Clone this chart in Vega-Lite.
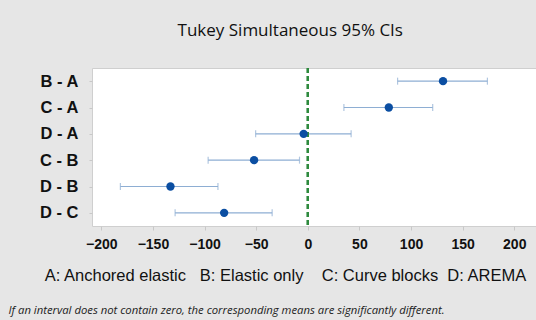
{
  "$schema": "https://vega.github.io/schema/vega-lite/v6.json",
  "background": "#e6e6e6",
  "padding": {"left": 8, "top": 21, "right": 0, "bottom": 16},
  "title": {
    "text": "Tukey Simultaneous 95% CIs",
    "font": "Open Sans",
    "fontSize": 17,
    "fontWeight": "normal",
    "color": "#111111",
    "anchor": "middle",
    "offset": 27,
    "dx": 17
  },
  "data": {
    "values": [
      {"pair": "B - A", "diff": 131, "lower": 87, "upper": 174},
      {"pair": "C - A", "diff": 78.5, "lower": 35, "upper": 121},
      {"pair": "D - A", "diff": -4, "lower": -50.5, "upper": 42},
      {"pair": "C - B", "diff": -52, "lower": -96.5, "upper": -8},
      {"pair": "D - B", "diff": -133, "lower": -181.5, "upper": -87},
      {"pair": "D - C", "diff": -81, "lower": -128.5, "upper": -34.5}
    ]
  },
  "vconcat": [
    {
      "width": 446,
      "height": 158,
      "title": {
        "text": "If an interval does not contain zero, the corresponding means are significantly different.",
        "orient": "bottom",
        "anchor": "start",
        "frame": "bounds",
        "font": "Open Sans",
        "fontSize": 11.3,
        "fontStyle": "italic",
        "fontWeight": "normal",
        "color": "#222222",
        "offset": 21,
        "dx": -31
      },
      "encoding": {
        "y": {
          "field": "pair",
          "type": "nominal",
          "sort": null,
          "scale": {"type": "point", "padding": 0.5},
          "axis": {
            "title": null,
            "domain": false,
            "grid": false,
            "ticks": true,
            "tickSize": 3,
            "tickColor": "#c8c8c8",
            "labelFont": "Liberation Sans",
            "labelFontSize": 16.5,
            "labelFontWeight": "bold",
            "labelColor": "#111111",
            "labelPadding": 11
          }
        }
      },
      "layer": [
        {
          "mark": {"type": "rule", "color": "#8eaed3", "strokeWidth": 1.2},
          "encoding": {
            "x": {
              "field": "lower",
              "type": "quantitative",
              "scale": {"domain": [-209, 223], "nice": false, "zero": false},
              "axis": {
                "title": "A: Anchored elastic\u00a0\u00a0\u00a0B: Elastic only\u00a0\u00a0\u00a0\u00a0C: Curve blocks\u00a0\u00a0D: AREMA",
                "titleFont": "Liberation Sans",
                "titleFontSize": 16.5,
                "titleFontWeight": "normal",
                "titleColor": "#111111",
                "titlePadding": 16,
                "titleAnchor": "middle",
                "titleX": 193,
                "values": [-200, -150, -100, -50, 0, 50, 100, 150, 200],
                "domain": false,
                "grid": false,
                "tickSize": 4,
                "tickColor": "#c8c8c8",
                "labelFont": "Liberation Sans",
                "labelFontSize": 14,
                "labelFontWeight": "bold",
                "labelColor": "#111111",
                "labelPadding": 7
              }
            },
            "x2": {"field": "upper"}
          }
        },
        {
          "mark": {"type": "tick", "color": "#8eaed3", "orient": "vertical", "size": 7, "thickness": 1.2},
          "encoding": {"x": {"field": "lower", "type": "quantitative"}}
        },
        {
          "mark": {"type": "tick", "color": "#8eaed3", "orient": "vertical", "size": 7, "thickness": 1.2},
          "encoding": {"x": {"field": "upper", "type": "quantitative"}}
        },
        {
          "mark": {"type": "rule", "color": "#2e8a3e", "strokeWidth": 1.8, "strokeDash": [5, 3]},
          "encoding": {"x": {"datum": 0}, "y": {}}
        },
        {
          "mark": {"type": "point", "filled": true, "color": "#0b4ea2", "opacity": 1, "size": 70},
          "encoding": {"x": {"field": "diff", "type": "quantitative"}}
        }
      ]
    }
  ],
  "config": {
    "view": {"fill": "white", "stroke": "#cfcfcf", "strokeWidth": 1},
    "concat": {"spacing": 0}
  }
}
